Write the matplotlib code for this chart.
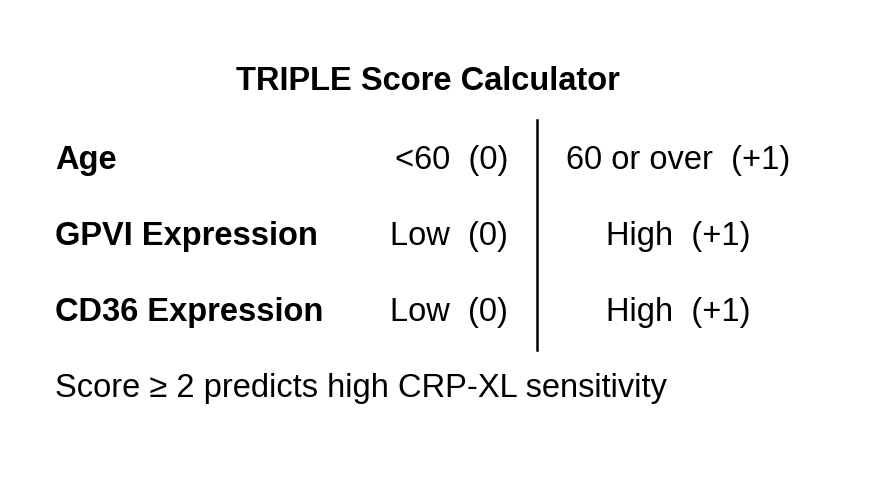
import matplotlib
matplotlib.use("Agg")
import matplotlib.pyplot as plt

plt.rcParams["font.family"] = "Liberation Sans"

title = "TRIPLE Score Calculator"
factors = ["Age", "GPVI Expression", "CD36 Expression"]
low_labels = ["<60  (0)", "Low  (0)", "Low  (0)"]
high_labels = ["60 or over  (+1)", "High  (+1)", "High  (+1)"]
footer = "Score \u2265 2 predicts high CRP-XL sensitivity"

W, H = 875, 488
fig = plt.figure(figsize=(W / 100, H / 100), dpi=100)
ax = fig.add_axes([0, 0, 1, 1])
ax.set_xlim(0, W)
ax.set_ylim(H, 0)
ax.axis("off")

fs = 23.5
ax.text(428, 82, title, fontsize=fs, fontweight="bold", ha="center", va="center")

row_y = [160, 237, 313]
for y, f, lo, hi in zip(row_y, factors, low_labels, high_labels):
    ax.text(55, y, f, fontsize=fs, fontweight="bold", ha="left", va="center")
    ax.text(508, y, lo, fontsize=fs, ha="right", va="center")
    ax.text(678, y, hi, fontsize=fs, ha="center", va="center")

ax.plot([537, 537], [120, 350], color="black", lw=1.8)

ax.text(55, 388, footer, fontsize=fs, ha="left", va="center")

fig.savefig("out.png", dpi=100, facecolor="white")
